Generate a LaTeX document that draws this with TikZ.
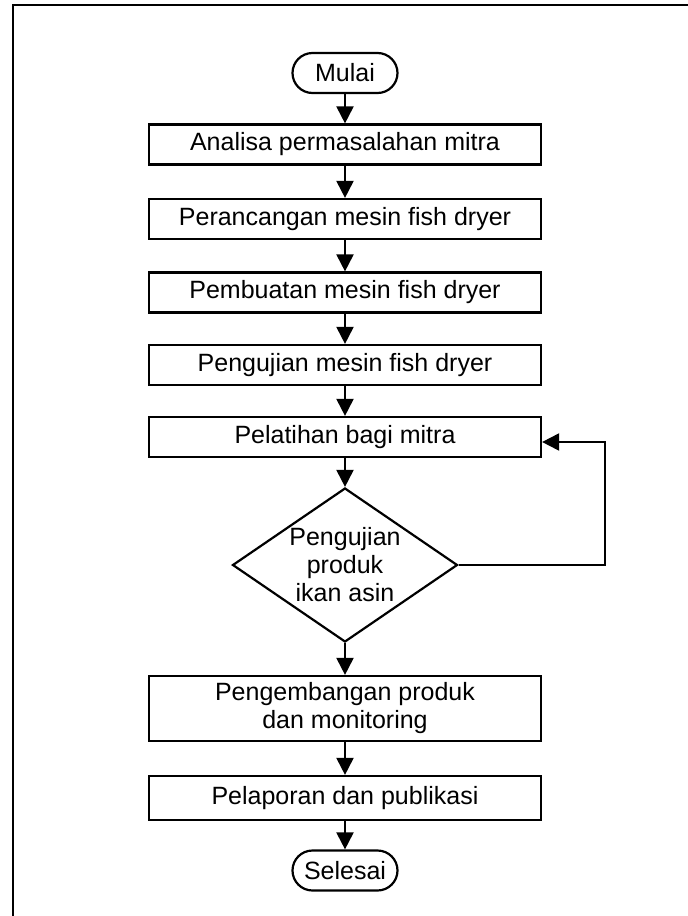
\documentclass[tikz,border=0pt]{standalone}
\usepackage{fontspec}
\setmainfont{Liberation Sans}
\usetikzlibrary{shapes.geometric,arrows.meta}
\tikzset{
  every node/.style={font=\fontsize{12.5pt}{14pt}\selectfont},
  proses/.style={draw,line width=1.1pt,minimum width=196pt,minimum height=20pt,inner sep=0pt,align=center},
  terminal/.style={draw,line width=1.1pt,rounded corners=10pt,minimum width=52.5pt,minimum height=20pt,inner sep=0pt},
  keputusan/.style={draw,diamond,line width=1.1pt,minimum width=112.5pt,minimum height=77pt,inner sep=-8pt,align=center},
  panah/.style={-{Triangle[length=8.5pt,width=8.5pt]},line width=1pt}
}
\begin{document}
\begin{tikzpicture}[x=0.5pt,y=-0.5pt]
        \useasboundingbox (0,0) rectangle (688,916);
        \draw[line width=0.7pt] (13,916) -- (13,5) -- (688,5);
        \node[terminal] at (345,73) (mulai) {Mulai};
        \node[proses] at (345,144.5) (analisa) {Analisa permasalahan mitra};
        \node[proses] at (345,219) (rancang) {Perancangan mesin fish dryer};
        \node[proses] at (345,292.5) (buat) {Pembuatan mesin fish dryer};
        \node[proses] at (345,365) (uji) {Pengujian mesin fish dryer};
        \node[proses] at (345,437) (latih) {Pelatihan bagi mitra};
        \node[keputusan] at (345,565) (cek) {Pengujian\\produk\\ikan asin};
        \node[proses,minimum height=32.5pt] at (345,708.5) (kembang) {Pengembangan produk\\dan monitoring};
        \node[proses,minimum height=22pt] at (345,798) (lapor) {Pelaporan dan publikasi};
        \node[terminal] at (345,870.5) (selesai) {Selesai};
        \draw[panah] (mulai) -- (analisa);
        \draw[panah] (analisa) -- (rancang);
        \draw[panah] (rancang) -- (buat);
        \draw[panah] (buat) -- (uji);
        \draw[panah] (uji) -- (latih);
        \draw[panah] (latih) -- (cek);
        \draw[panah] (cek.east) -- ++(146,0) |- ([yshift=-2.5pt]latih.east);
        \draw[panah] (cek) -- (kembang);
        \draw[panah] (kembang) -- (lapor);
        \draw[panah] (lapor) -- (selesai);
      \end{tikzpicture}
\end{document}
